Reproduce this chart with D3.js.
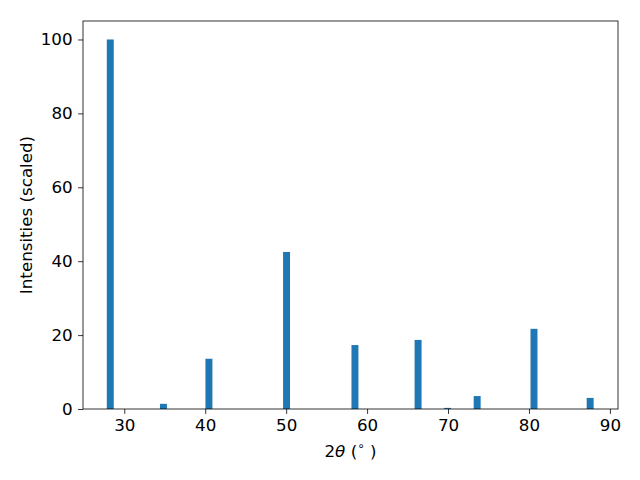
<!DOCTYPE html>
<html>
<head>
<meta charset="utf-8">
<script src="https://cdn.jsdelivr.net/npm/d3@7"></script>
<style>
  body { margin: 0; background: #fff; }
  text { font-family: "DejaVu Sans", sans-serif; }
</style>
</head>
<body>
<div id="chart"></div>
<script>
// peak positions (2theta, degrees) and scaled intensities
const angles = [28.27, 34.84, 40.46, 50.05, 58.5, 66.3, 69.95, 73.6, 80.62, 87.56];
const intensities = [100, 1.4, 13.6, 42.5, 17.3, 18.7, 0.3, 3.5, 21.7, 3.0];
const xTicks = [30, 40, 50, 60, 70, 80, 90];
const yTicks = [0, 20, 40, 60, 80, 100];
const binWidth = 0.86;

const width = 640, height = 480;
const margin = {top: 21, right: 22, bottom: 71, left: 83};
const fontSize = '16.7px';

const svg = d3.select('#chart').append('svg')
    .attr('width', width)
    .attr('height', height);

const x = d3.scaleLinear()
    .domain([24.9, 91.0])
    .range([margin.left, width - margin.right]);

const y = d3.scaleLinear()
    .domain([0, 105])
    .range([height - margin.bottom, margin.top]);

// bars
svg.append('g')
    .selectAll('rect')
    .data(angles)
    .enter().append('rect')
    .attr('x', (d) => x(d - binWidth / 2))
    .attr('width', (d) => x(d + binWidth / 2) - x(d - binWidth / 2))
    .attr('y', (d, i) => y(intensities[i]))
    .attr('height', (d, i) => y(0) - y(intensities[i]))
    .attr('fill', '#1f77b4');

// axes
const xAxis = d3.axisBottom(x).tickValues(xTicks).tickSize(4.9).tickPadding(5.5);
const yAxis = d3.axisLeft(y).tickValues(yTicks).tickSize(4.9).tickPadding(5.5);

const gx = svg.append('g')
    .attr('transform', `translate(0,${height - margin.bottom})`)
    .call(xAxis);
const gy = svg.append('g')
    .attr('transform', `translate(${margin.left},0)`)
    .call(yAxis);

[gx, gy].forEach(g => {
    g.select('.domain').remove();
    g.selectAll('.tick line').attr('stroke', '#000').attr('stroke-width', 0.8);
    g.selectAll('.tick text')
        .attr('fill', '#000')
        .style('font-size', fontSize)
        .style('font-family', '"DejaVu Sans", sans-serif');
});

// frame
svg.append('rect')
    .attr('x', margin.left)
    .attr('y', margin.top)
    .attr('width', width - margin.left - margin.right)
    .attr('height', height - margin.top - margin.bottom)
    .attr('fill', 'none')
    .attr('stroke', '#000')
    .attr('stroke-width', 0.8);

// axis labels
const xl = svg.append('text')
    .attr('x', (margin.left + width - margin.right) / 2)
    .attr('y', 457)
    .attr('text-anchor', 'middle')
    .style('font-size', fontSize);
xl.append('tspan').text('2');
xl.append('tspan').style('font-style', 'italic').text('θ');
xl.append('tspan').text(' (');
xl.append('tspan').attr('dy', -7).style('font-size', '12px').text('∘');
xl.append('tspan').attr('dy', 7).text(' )');

svg.append('text')
    .attr('transform', `translate(31.5,${(margin.top + height - margin.bottom) / 2}) rotate(-90)`)
    .attr('text-anchor', 'middle')
    .style('font-size', fontSize)
    .text('Intensities (scaled)');
</script>
</body>
</html>
